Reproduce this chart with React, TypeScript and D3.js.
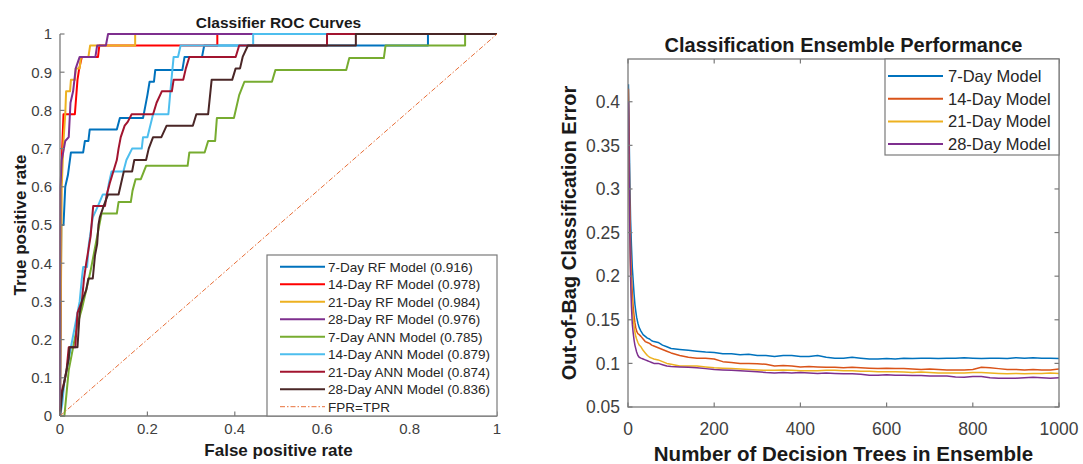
import React from 'react';
import * as d3 from 'd3';

const W = 1083;
const H = 464;
const FONT = '"Liberation Sans", Arial, Helvetica, sans-serif';
const AXIS = '#7a7a7a';
const TICKTXT = '#404040';

// ---------- Left chart: ROC curves ----------
const rocLabels = [
  '7-Day RF Model (0.916)',
  '14-Day RF Model (0.978)',
  '21-Day RF Model (0.984)',
  '28-Day RF Model (0.976)',
  '7-Day ANN Model (0.785)',
  '14-Day ANN Model (0.879)',
  '21-Day ANN Model (0.874)',
  '28-Day ANN Model (0.836)',
];
const rocColors = ['#0072BD', '#FF0000', '#EDB120', '#7E2F8E', '#77AC30', '#4DBEEE', '#A2142F', '#4A2626'];

const rf7Fpr = [0, 0.003, 0.008, 0.012, 0.018, 0.025, 0.053, 0.057, 0.065, 0.068, 0.13, 0.137, 0.19, 0.195, 0.2, 0.205, 0.215, 0.218, 0.28, 0.285, 0.325, 0.33, 0.842, 0.842, 1];
const rf7Tpr = [0, 0.5, 0.5, 0.6, 0.63, 0.69, 0.69, 0.72, 0.72, 0.75, 0.75, 0.78, 0.78, 0.81, 0.84, 0.875, 0.875, 0.906, 0.906, 0.94, 0.94, 0.97, 0.97, 1, 1];

const rf14Fpr = [0, 0.002, 0.005, 0.008, 0.034, 0.036, 0.038, 0.04, 0.044, 0.05, 0.087, 0.09, 0.36, 0.36, 1];
const rf14Tpr = [0, 0.6, 0.7, 0.79, 0.79, 0.82, 0.85, 0.88, 0.91, 0.94, 0.94, 0.97, 0.97, 1, 1];

const rf21Fpr = [0, 0.004, 0.008, 0.012, 0.014, 0.023, 0.025, 0.034, 0.036, 0.045, 0.048, 0.065, 0.069, 0.172, 0.172, 1];
const rf21Tpr = [0, 0.6, 0.72, 0.79, 0.85, 0.85, 0.88, 0.88, 0.91, 0.91, 0.94, 0.94, 0.97, 0.97, 1, 1];

const rf28Fpr = [0, 0.001, 0.004, 0.012, 0.02, 0.024, 0.03, 0.036, 0.045, 0.081, 0.085, 0.105, 0.11, 1];
const rf28Tpr = [0, 0.6, 0.67, 0.72, 0.73, 0.82, 0.85, 0.91, 0.94, 0.94, 0.97, 0.97, 1, 1];

const ann7Fpr = [0, 0.01, 0.015, 0.02, 0.03, 0.04, 0.05, 0.06, 0.07, 0.08, 0.085, 0.09, 0.095, 0.13, 0.134, 0.162, 0.166, 0.173, 0.185, 0.197, 0.292, 0.296, 0.331, 0.339, 0.355, 0.359, 0.398, 0.41, 0.422, 0.485, 0.493, 0.655, 0.662, 0.741, 0.745, 0.927, 0.927, 1];
const ann7Tpr = [0, 0, 0.06, 0.12, 0.18, 0.24, 0.28, 0.33, 0.38, 0.44, 0.47, 0.5, 0.53, 0.53, 0.56, 0.56, 0.59, 0.62, 0.62, 0.655, 0.655, 0.69, 0.69, 0.72, 0.72, 0.78, 0.78, 0.84, 0.875, 0.875, 0.906, 0.906, 0.937, 0.937, 0.97, 0.97, 1, 1];

const ann14Fpr = [0, 0.005, 0.01, 0.015, 0.02, 0.03, 0.04, 0.045, 0.05, 0.053, 0.062, 0.066, 0.075, 0.087, 0.098, 0.108, 0.112, 0.118, 0.145, 0.152, 0.165, 0.187, 0.19, 0.2, 0.213, 0.248, 0.255, 0.26, 0.27, 0.276, 0.442, 0.442, 1];
const ann14Tpr = [0, 0.03, 0.09, 0.12, 0.15, 0.21, 0.27, 0.3, 0.36, 0.39, 0.39, 0.45, 0.52, 0.55, 0.58, 0.58, 0.61, 0.64, 0.64, 0.67, 0.7, 0.7, 0.73, 0.73, 0.79, 0.79, 0.88, 0.94, 0.94, 0.97, 0.97, 1, 1];

const ann21Fpr = [0, 0.003, 0.01, 0.015, 0.02, 0.035, 0.04, 0.05, 0.055, 0.06, 0.07, 0.076, 0.103, 0.107, 0.114, 0.122, 0.13, 0.134, 0.139, 0.148, 0.155, 0.164, 0.213, 0.221, 0.233, 0.256, 0.26, 0.282, 0.288, 0.296, 0.402, 0.41, 0.611, 0.611, 1];
const ann21Tpr = [0, 0.06, 0.09, 0.12, 0.18, 0.18, 0.27, 0.3, 0.36, 0.4, 0.47, 0.55, 0.55, 0.58, 0.61, 0.64, 0.67, 0.7, 0.73, 0.76, 0.77, 0.79, 0.79, 0.82, 0.85, 0.85, 0.88, 0.88, 0.91, 0.94, 0.94, 0.97, 0.97, 1, 1];

const ann28Fpr = [0, 0.005, 0.01, 0.02, 0.022, 0.04, 0.045, 0.05, 0.06, 0.065, 0.075, 0.08, 0.085, 0.088, 0.091, 0.1, 0.11, 0.134, 0.14, 0.146, 0.165, 0.17, 0.197, 0.203, 0.213, 0.232, 0.244, 0.304, 0.312, 0.339, 0.347, 0.394, 0.402, 0.412, 0.418, 0.43, 0.677, 0.677, 1];
const ann28Tpr = [0, 0.06, 0.09, 0.15, 0.18, 0.18, 0.27, 0.3, 0.33, 0.36, 0.36, 0.42, 0.45, 0.5, 0.52, 0.55, 0.58, 0.58, 0.61, 0.64, 0.64, 0.67, 0.67, 0.7, 0.73, 0.73, 0.76, 0.76, 0.79, 0.79, 0.88, 0.88, 0.91, 0.91, 0.94, 0.97, 0.97, 1, 1];

const rocFprList = [rf7Fpr, rf14Fpr, rf21Fpr, rf28Fpr, ann7Fpr, ann14Fpr, ann21Fpr, ann28Fpr];
const rocTprList = [rf7Tpr, rf14Tpr, rf21Tpr, rf28Tpr, ann7Tpr, ann14Tpr, ann21Tpr, ann28Tpr];

const diagLabel = 'FPR=TPR';
const diagX = [0, 1];
const diagY = [0, 1];

const rocXTicks = [0, 0.2, 0.4, 0.6, 0.8, 1];
const rocYTicks = [0, 0.1, 0.2, 0.3, 0.4, 0.5, 0.6, 0.7, 0.8, 0.9, 1];

// ---------- Right chart: OOB error ----------
const oobLabels = ['7-Day Model', '14-Day Model', '21-Day Model', '28-Day Model'];
const oobColors = ['#0072BD', '#D95319', '#EDB120', '#7E2F8E'];

const nTrees = [1, 2, 3, 4, 5, 6, 7, 8, 10, 12, 14, 16, 18, 20, 23, 26, 30, 35, 40, 45, 50, 55, 60, 70, 80, 90, 100,
  120, 140, 160, 180, 200, 220, 240, 260, 280, 300, 320, 340, 360, 380, 400, 420, 440, 460, 480, 500,
  520, 540, 560, 580, 600, 620, 640, 660, 680, 700, 720, 740, 760, 780, 800, 820, 840, 860, 880, 900,
  920, 940, 960, 980, 1000];

const err7 = [0.42, 0.39, 0.35, 0.32, 0.29, 0.265, 0.25, 0.235, 0.21, 0.195, 0.18, 0.168, 0.16, 0.153, 0.146, 0.141, 0.137, 0.133, 0.131, 0.129, 0.128, 0.126, 0.125, 0.124, 0.121, 0.119, 0.117,
  0.116, 0.115, 0.114, 0.113, 0.1125, 0.111, 0.111, 0.11, 0.1105, 0.109, 0.109, 0.108, 0.109, 0.109, 0.108, 0.108, 0.109, 0.107, 0.106, 0.106,
  0.107, 0.106, 0.105, 0.105, 0.1055, 0.105, 0.106, 0.1055, 0.106, 0.106, 0.1055, 0.106, 0.106, 0.1065, 0.106, 0.1055, 0.106, 0.106, 0.1055, 0.1065,
  0.106, 0.1065, 0.106, 0.106, 0.1055];

const err14 = [0.415, 0.38, 0.33, 0.29, 0.26, 0.235, 0.215, 0.2, 0.18, 0.165, 0.155, 0.147, 0.141, 0.137, 0.134, 0.133, 0.131, 0.128, 0.125, 0.124, 0.123, 0.121, 0.12, 0.118, 0.116, 0.114, 0.112,
  0.109, 0.107, 0.106, 0.106, 0.105, 0.102, 0.101, 0.1, 0.1, 0.0995, 0.099, 0.097, 0.0975, 0.097, 0.096, 0.0965, 0.096, 0.0955, 0.0955, 0.095,
  0.0955, 0.095, 0.0945, 0.094, 0.0945, 0.094, 0.094, 0.0935, 0.093, 0.0935, 0.093, 0.0925, 0.0925, 0.0925, 0.093, 0.0955, 0.095, 0.094, 0.093, 0.093,
  0.0925, 0.093, 0.0925, 0.0925, 0.0935];

const err21 = [0.34, 0.31, 0.28, 0.25, 0.225, 0.205, 0.19, 0.18, 0.163, 0.152, 0.143, 0.136, 0.131, 0.128, 0.124, 0.121, 0.119, 0.115, 0.112, 0.109, 0.107, 0.106, 0.105, 0.104, 0.102, 0.1, 0.099,
  0.097, 0.097, 0.097, 0.096, 0.095, 0.0945, 0.094, 0.0935, 0.093, 0.0925, 0.092, 0.092, 0.0925, 0.092, 0.0915, 0.0915, 0.0915, 0.092, 0.092, 0.0915,
  0.0915, 0.091, 0.091, 0.0905, 0.0905, 0.0905, 0.09, 0.0895, 0.09, 0.0895, 0.089, 0.089, 0.089, 0.089, 0.0895, 0.0895, 0.089, 0.0885, 0.088, 0.0885,
  0.088, 0.0885, 0.0885, 0.089, 0.0885];

const err28 = [0.4, 0.35, 0.3, 0.26, 0.225, 0.2, 0.18, 0.165, 0.145, 0.135, 0.127, 0.121, 0.117, 0.113, 0.109, 0.107, 0.106, 0.105, 0.104, 0.103, 0.102, 0.101, 0.1, 0.1, 0.0985, 0.097, 0.0965,
  0.096, 0.0955, 0.095, 0.094, 0.093, 0.0925, 0.092, 0.0915, 0.091, 0.0905, 0.0895, 0.089, 0.0895, 0.089, 0.0895, 0.089, 0.0885, 0.089, 0.0885, 0.088,
  0.088, 0.0875, 0.0865, 0.0865, 0.087, 0.0865, 0.0865, 0.086, 0.086, 0.0855, 0.0855, 0.0855, 0.0845, 0.084, 0.085, 0.085, 0.0835, 0.083, 0.083, 0.083,
  0.0835, 0.084, 0.0835, 0.083, 0.0835];

const oobSeries = [err7, err14, err21, err28];
const oobXTicks = [0, 200, 400, 600, 800, 1000];
const oobYTicks = [0.05, 0.1, 0.15, 0.2, 0.25, 0.3, 0.35, 0.4];

const fmt = (v: number) => String(+v.toFixed(2));

export default function App() {
  // Left chart scales
  const lx = d3.scaleLinear().domain([0, 1]).range([60, 497]);
  const ly = d3.scaleLinear().domain([0, 1]).range([416, 34]);
  // Right chart scales
  const rx = d3.scaleLinear().domain([0, 1000]).range([628, 1059]);
  const ry = d3.scaleLinear().domain([0.05, 0.449]).range([407, 59]);

  const rocPaths = rocFprList.map((fx, i) =>
    d3.line<number>().x((_, j) => lx(fx[j])).y((_, j) => ly(rocTprList[i][j]))(fx) || ''
  );
  const diagPath = d3.line<number>().x((_, j) => lx(diagX[j])).y((_, j) => ly(diagY[j]))(diagX) || '';

  const oobPaths = oobSeries.map((s) =>
    d3.line<number>().x((_, j) => rx(nTrees[j])).y((d) => ry(d))(s) || ''
  );

  const [lx0, lx1] = lx.range();
  const [ly0, ly1] = ly.range();
  const [rx0, rx1] = rx.range();
  const [ry0, ry1] = ry.range();

  const legRowL = (i: number) => 266.7 + i * 17.5;
  const legRowR = (i: number) => 76 + i * 22.7;

  return (
    <svg width={W} height={H} style={{ position: 'absolute', left: 0, top: 0, background: '#fff' }} fontFamily={FONT}>
      <rect x={0} y={0} width={W} height={H} fill="#fff" />
      <defs>
        <clipPath id="clipR">
          <rect x={rx0} y={ry1} width={rx1 - rx0} height={ry0 - ry1} />
        </clipPath>
      </defs>

      {/* ================= LEFT CHART ================= */}
      <text x={(lx0 + lx1) / 2} y={28} textAnchor="middle" fontSize={15.5} fontWeight="bold" fill="#1a1a1a">
        Classifier ROC Curves
      </text>

      {rocPaths.map((p, i) => (
        <path key={i} d={p} fill="none" stroke={rocColors[i]} strokeWidth={2} strokeLinejoin="round" />
      ))}
      <path d={diagPath} fill="none" stroke="#E8703A" strokeWidth={1} strokeDasharray="5,2,1.5,2" />

      <line x1={lx0} y1={ly0} x2={lx1} y2={ly0} stroke={AXIS} strokeWidth={1.3} />
      <line x1={lx0} y1={ly0} x2={lx0} y2={ly1} stroke={AXIS} strokeWidth={1.3} />
      {rocXTicks.map((t) => (
        <g key={'lxt' + t}>
          <line x1={lx(t)} x2={lx(t)} y1={ly0} y2={ly0 - 4.5} stroke={AXIS} strokeWidth={1.2} />
          <text x={lx(t)} y={434} textAnchor="middle" fontSize={15} fill={TICKTXT}>{fmt(t)}</text>
        </g>
      ))}
      {rocYTicks.map((t) => (
        <g key={'lyt' + t}>
          <line x1={lx0} x2={lx0 + 4.5} y1={ly(t)} y2={ly(t)} stroke={AXIS} strokeWidth={1.2} />
          <text x={52} y={ly(t)} dy="0.36em" textAnchor="end" fontSize={15} fill={TICKTXT}>{fmt(t)}</text>
        </g>
      ))}
      <text x={(lx0 + lx1) / 2} y={456} textAnchor="middle" fontSize={17} fontWeight="bold" fill="#1a1a1a">
        False positive rate
      </text>
      <text transform={`translate(26,${(ly0 + ly1) / 2}) rotate(-90)`} textAnchor="middle" fontSize={17} fontWeight="bold" fill="#1a1a1a">
        True positive rate
      </text>

      <rect x={267} y={255} width={lx1 - 267} height={ly0 - 255} fill="#fff" stroke={AXIS} strokeWidth={1.2} />
      {rocLabels.map((lab, i) => (
        <g key={'ll' + i}>
          <line x1={280} x2={325} y1={legRowL(i)} y2={legRowL(i)} stroke={rocColors[i]} strokeWidth={2} />
          <text x={328} y={legRowL(i)} dy="0.36em" fontSize={13.5} fill="#262626">{lab}</text>
        </g>
      ))}
      <line x1={280} x2={325} y1={legRowL(8)} y2={legRowL(8)} stroke="#E8703A" strokeWidth={1} strokeDasharray="5,2,1.5,2" />
      <text x={328} y={legRowL(8)} dy="0.36em" fontSize={13.5} fill="#262626">{diagLabel}</text>

      {/* ================= RIGHT CHART ================= */}
      <text x={(rx0 + rx1) / 2} y={52} textAnchor="middle" fontSize={20} fontWeight="bold" fill="#1a1a1a">
        Classification Ensemble Performance
      </text>

      <g clipPath="url(#clipR)">
        {oobPaths.map((p, i) => (
          <path key={i} d={p} fill="none" stroke={oobColors[i]} strokeWidth={1.5} strokeLinejoin="round" />
        ))}
      </g>

      <rect x={rx0} y={ry1} width={rx1 - rx0} height={ry0 - ry1} fill="none" stroke={AXIS} strokeWidth={1.3} />
      {oobXTicks.map((t) => (
        <g key={'rxt' + t}>
          <line x1={rx(t)} x2={rx(t)} y1={ry0} y2={ry0 - 4.5} stroke={AXIS} strokeWidth={1.2} />
          <line x1={rx(t)} x2={rx(t)} y1={ry1} y2={ry1 + 4.5} stroke={AXIS} strokeWidth={1.2} />
          <text x={rx(t)} y={435} textAnchor="middle" fontSize={17.5} fill={TICKTXT}>{t}</text>
        </g>
      ))}
      {oobYTicks.map((t) => (
        <g key={'ryt' + t}>
          <line x1={rx0} x2={rx0 + 4.5} y1={ry(t)} y2={ry(t)} stroke={AXIS} strokeWidth={1.2} />
          <line x1={rx1} x2={rx1 - 4.5} y1={ry(t)} y2={ry(t)} stroke={AXIS} strokeWidth={1.2} />
          <text x={620} y={ry(t)} dy="0.36em" textAnchor="end" fontSize={17.5} fill={TICKTXT}>{fmt(t)}</text>
        </g>
      ))}
      <text x={(rx0 + rx1) / 2} y={461} textAnchor="middle" fontSize={20.5} fontWeight="bold" fill="#1a1a1a">
        Number of Decision Trees in Ensemble
      </text>
      <text transform={`translate(576,${(ry0 + ry1) / 2}) rotate(-90)`} textAnchor="middle" fontSize={20} fontWeight="bold" fill="#1a1a1a">
        Out-of-Bag Classification Error
      </text>

      <rect x={885} y={ry1} width={rx1 - 885} height={155 - ry1} fill="#fff" stroke={AXIS} strokeWidth={1.2} />
      {oobLabels.map((lab, i) => (
        <g key={'rl' + i}>
          <line x1={888} x2={943} y1={legRowR(i)} y2={legRowR(i)} stroke={oobColors[i]} strokeWidth={2} />
          <text x={948} y={legRowR(i)} dy="0.36em" fontSize={16.5} fill="#262626">{lab}</text>
        </g>
      ))}
    </svg>
  );
}
